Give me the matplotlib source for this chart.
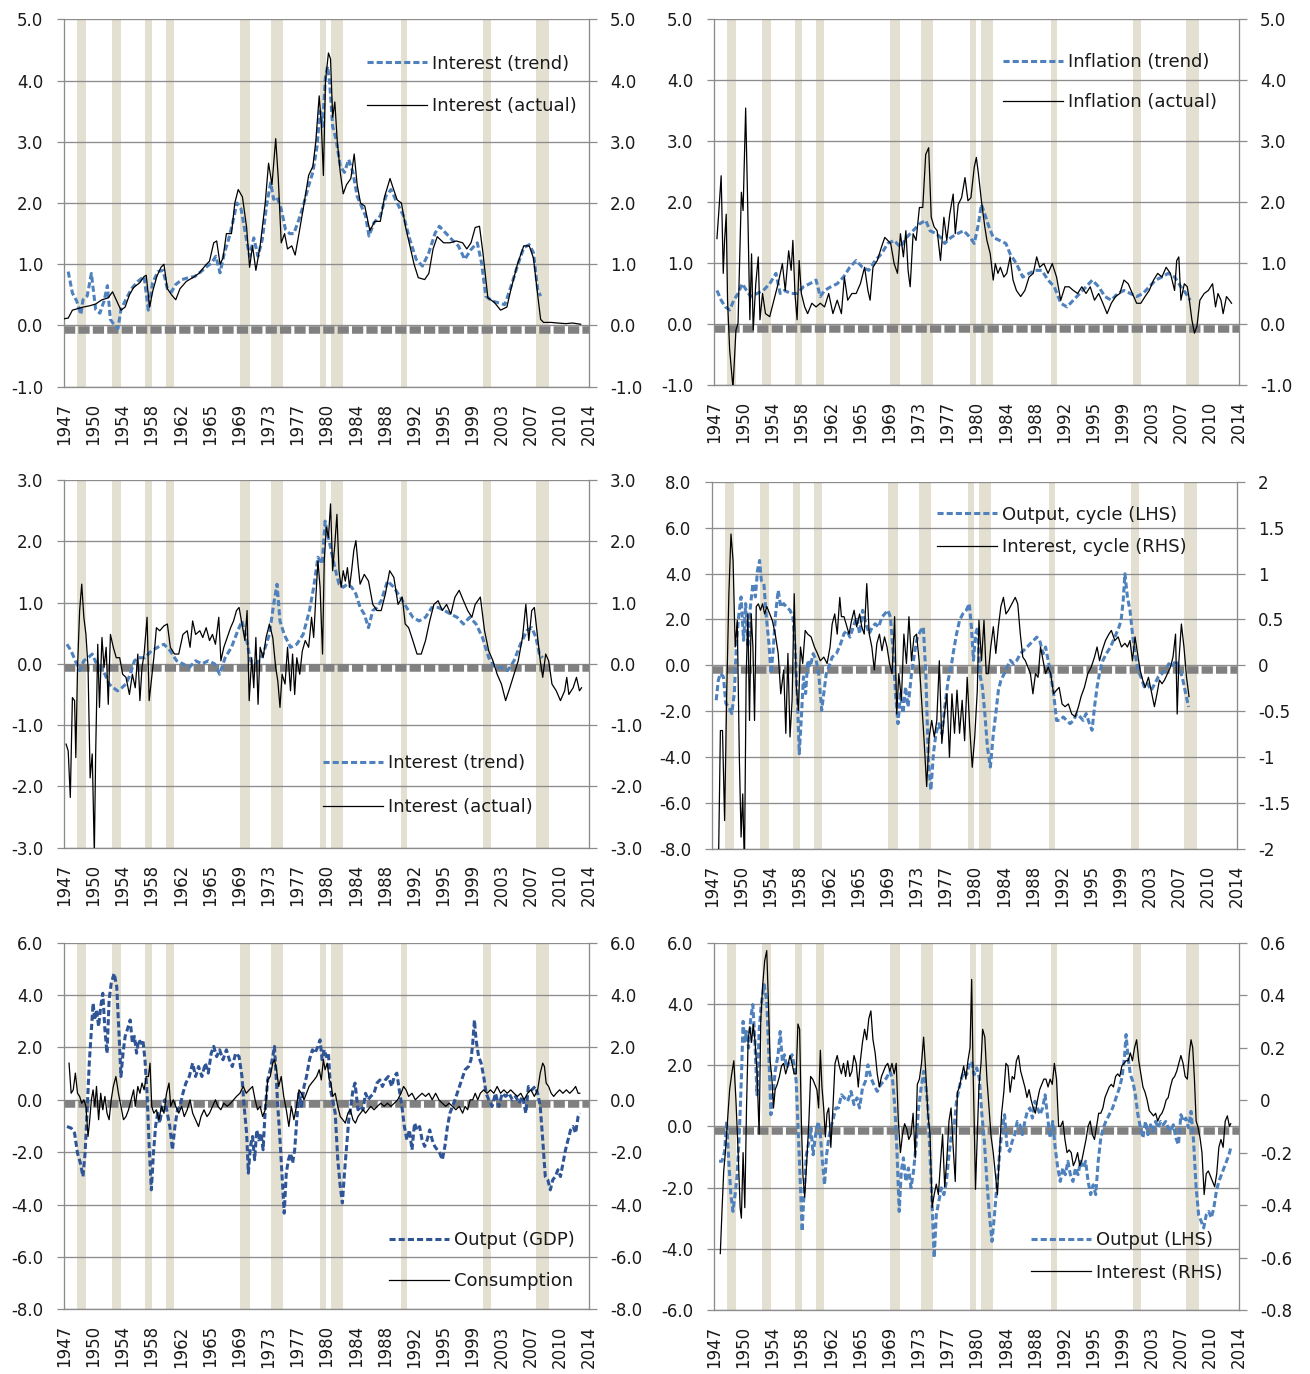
import numpy as np
import matplotlib
matplotlib.use('Agg')
import matplotlib.pyplot as plt
import matplotlib.transforms as mtransforms
from matplotlib.ticker import FuncFormatter

plt.rcParams['font.family'] = ['DejaVu Sans']
plt.rcParams['axes.unicode_minus'] = False

# ------------------------------------------------------------
# DATA  (time = years after 1947Q1, quarterly series)
# ------------------------------------------------------------
recessions = [('1948Q4', '1949Q4'), ('1953Q2', '1954Q2'), ('1957Q3', '1958Q2'),
              ('1960Q2', '1961Q1'), ('1969Q4', '1970Q4'), ('1973Q4', '1975Q1'),
              ('1980Q1', '1980Q3'), ('1981Q3', '1982Q4'), ('1990Q3', '1991Q1'),
              ('2001Q1', '2001Q4'), ('2007Q4', '2009Q2')]

# panel 1: interest rate, trend vs actual
p1_trend_t = [0.54, 1.08, 1.63, 2.17, 2.44, 2.98, 3.52, 4.07, 4.61, 5.15,
              5.58, 5.96, 6.51, 6.94, 7.32, 7.86, 8.68, 9.49, 10.30, 10.84,
              11.39, 12.09, 12.74, 13.29, 13.83, 14.37, 15.18, 16.00, 16.81, 17.62,
              18.44, 18.98, 19.52, 20.06, 20.61, 21.15, 21.69, 22.23, 22.77, 23.32,
              23.86, 24.40, 24.94, 25.49, 26.03, 26.57, 26.95, 27.38, 27.93, 28.47,
              29.01, 29.55, 30.20, 30.75, 31.45, 31.99, 32.54, 32.92, 33.24, 33.62,
              33.89, 34.16, 34.54, 34.98, 35.52, 36.06, 36.60, 37.15, 37.69, 38.23,
              38.77, 39.21, 39.86, 40.67, 41.38, 42.03, 42.84, 43.65, 44.47, 45.28,
              46.09, 46.91, 47.72, 48.26, 49.08, 49.89, 50.70, 51.52, 52.33, 53.14,
              53.69, 54.23, 55.04, 55.85, 56.67, 57.48, 58.29, 59.11, 59.81, 60.36,
              60.90, 61.28]
p1_trend_v = [0.88, 0.53, 0.40, 0.18, 0.42, 0.48, 0.85, 0.26, 0.20, 0.40,
              0.65, 0.10, 0.00, -0.05, 0.26, 0.40, 0.60, 0.72, 0.80, 0.25,
              0.70, 0.88, 0.90, 0.60, 0.55, 0.67, 0.75, 0.78, 0.80, 0.88,
              0.97, 1.02, 1.13, 0.86, 1.18, 1.40, 1.68, 2.00, 1.90, 1.50,
              1.13, 1.43, 1.13, 1.40, 1.95, 2.33, 2.06, 2.10, 1.90, 1.57,
              1.50, 1.50, 1.73, 1.95, 2.28, 2.50, 2.93, 3.50, 3.25, 4.07,
              4.23, 3.96, 3.25, 3.04, 2.60, 2.50, 2.71, 2.50, 2.11, 1.95,
              1.79, 1.46, 1.68, 1.79, 2.11, 2.22, 2.00, 1.79, 1.40, 1.08,
              0.97, 1.19, 1.51, 1.62, 1.51, 1.40, 1.30, 1.08, 1.24, 1.35,
              1.02, 0.48, 0.40, 0.37, 0.34, 0.64, 0.97, 1.27, 1.32, 1.19,
              0.59, 0.48]
p1_actual_t = [0.00, 0.54, 1.08, 1.90, 2.44, 3.25, 4.07, 4.88, 5.69, 6.24,
               6.78, 7.32, 7.86, 8.41, 8.95, 9.76, 10.30, 10.57, 11.01, 11.39,
               11.93, 12.47, 12.85, 13.29, 13.83, 14.37, 14.91, 15.73, 16.54, 17.35,
               18.17, 18.71, 19.25, 19.63, 20.07, 20.44, 20.88, 21.53, 21.96, 22.40,
               22.94, 23.48, 23.86, 24.24, 24.67, 25.22, 25.87, 26.30, 26.74, 27.22,
               27.55, 27.93, 28.36, 28.74, 29.28, 29.72, 30.21, 30.75, 31.45, 32.00,
               32.37, 32.81, 33.08, 33.35, 33.62, 34.00, 34.27, 34.54, 34.82, 35.14,
               35.52, 35.90, 36.33, 36.88, 37.31, 37.69, 38.12, 38.67, 39.32, 39.97,
               40.67, 41.21, 41.92, 42.30, 42.84, 43.38, 43.93, 44.47, 45.01, 45.55,
               46.37, 46.91, 47.45, 47.99, 48.81, 49.62, 50.43, 51.25, 51.79, 52.33,
               52.87, 53.42, 53.85, 54.50, 55.31, 56.13, 56.94, 57.48, 58.30, 59.11,
               59.82, 60.36, 60.90, 61.28, 61.66, 62.64, 63.45, 64.53, 65.35, 66.43]
p1_actual_v = [0.11, 0.12, 0.25, 0.28, 0.30, 0.32, 0.35, 0.42, 0.45, 0.55,
               0.40, 0.25, 0.30, 0.50, 0.62, 0.70, 0.80, 0.82, 0.30, 0.55,
               0.80, 0.95, 1.00, 0.60, 0.50, 0.42, 0.60, 0.72, 0.78, 0.85,
               0.98, 1.05, 1.35, 1.38, 1.00, 1.10, 1.50, 1.50, 2.00, 2.22,
               2.10, 1.60, 0.95, 1.30, 0.90, 1.30, 2.00, 2.65, 2.30, 3.05,
               2.40, 1.35, 1.50, 1.25, 1.30, 1.15, 1.50, 1.90, 2.45, 2.60,
               3.00, 3.75, 3.30, 2.45, 4.00, 4.45, 4.35, 3.40, 3.65, 3.00,
               2.50, 2.15, 2.30, 2.40, 2.80, 2.30, 2.00, 1.95, 1.55, 1.70,
               1.70, 2.10, 2.40, 2.25, 2.05, 2.00, 1.60, 1.30, 1.00, 0.78,
               0.75, 0.85, 1.25, 1.45, 1.35, 1.35, 1.38, 1.35, 1.25, 1.35,
               1.60, 1.62, 1.20, 0.45, 0.38, 0.25, 0.30, 0.60, 1.00, 1.30,
               1.30, 1.10, 0.50, 0.10, 0.05, 0.05, 0.04, 0.03, 0.04, 0.02]

# panel 2: inflation, trend vs actual
p2_trend_t = [0.38, 0.92, 1.46, 2.01, 2.55, 3.09, 3.63, 4.18, 4.72, 5.53,
              6.34, 7.16, 7.97, 8.51, 9.06, 9.87, 10.68, 11.50, 12.31, 13.12,
              13.67, 14.21, 15.02, 15.84, 16.65, 17.46, 18.28, 19.09, 19.90, 20.72,
              21.53, 22.34, 23.16, 23.97, 24.78, 25.60, 26.41, 27.22, 27.77, 28.58,
              29.12, 29.66, 30.48, 31.29, 32.10, 32.92, 33.46, 34.00, 34.38, 34.82,
              35.36, 35.90, 36.71, 37.53, 38.07, 38.88, 39.70, 40.51, 41.32, 42.14,
              42.95, 43.76, 44.58, 45.39, 46.20, 47.02, 47.83, 48.64, 49.46, 50.27,
              51.08, 51.90, 52.71, 53.53, 54.34, 55.15, 55.96, 56.78, 57.59, 58.40,
              59.22, 60.03, 60.68, 61.23]
p2_trend_v = [0.55, 0.39, 0.28, 0.23, 0.39, 0.50, 0.66, 0.55, 0.45, 0.50,
              0.55, 0.66, 0.83, 0.50, 0.55, 0.50, 0.50, 0.61, 0.66, 0.72,
              0.45, 0.55, 0.61, 0.66, 0.77, 0.93, 1.04, 0.93, 0.88, 1.04,
              1.15, 1.32, 1.37, 1.26, 1.42, 1.53, 1.64, 1.70, 1.53, 1.48,
              1.42, 1.32, 1.42, 1.48, 1.53, 1.42, 1.32, 1.64, 1.96, 1.80,
              1.59, 1.42, 1.37, 1.32, 1.15, 0.99, 0.77, 0.83, 0.88, 0.88,
              0.72, 0.61, 0.34, 0.28, 0.39, 0.50, 0.61, 0.72, 0.61, 0.45,
              0.39, 0.50, 0.55, 0.50, 0.45, 0.50, 0.61, 0.72, 0.77, 0.83,
              0.77, 0.61, 0.50, 0.39]
p2_actual_t = [0.38, 0.65, 0.92, 1.19, 1.36, 1.57, 1.74, 2.01, 2.44, 2.82,
               3.09, 3.52, 3.74, 4.07, 4.34, 4.61, 4.83, 5.04, 5.37, 5.69,
               5.91, 6.24, 6.62, 7.16, 7.70, 8.24, 8.79, 9.16, 9.60, 9.92,
               10.14, 10.41, 10.68, 10.95, 11.23, 11.66, 12.04, 12.58, 13.12, 13.67,
               14.21, 14.75, 15.29, 15.84, 16.38, 16.76, 17.19, 17.73, 18.28, 18.82,
               19.36, 19.79, 20.07, 20.44, 20.99, 21.53, 21.96, 22.34, 22.72, 23.16,
               23.59, 23.97, 24.35, 24.67, 24.95, 25.22, 25.60, 25.98, 26.41, 26.84,
               27.22, 27.60, 27.93, 28.31, 28.69, 29.12, 29.56, 29.93, 30.31, 30.75,
               31.02, 31.40, 31.83, 32.27, 32.65, 33.03, 33.46, 33.73, 34.00, 34.38,
               34.82, 35.09, 35.52, 35.90, 36.17, 36.50, 36.82, 37.26, 37.64, 38.07,
               38.45, 38.88, 39.43, 39.97, 40.51, 41.05, 41.49, 41.87, 42.41, 42.95,
               43.49, 44.04, 44.58, 45.12, 45.66, 46.20, 46.75, 47.29, 47.83, 48.37,
               48.92, 49.46, 50.00, 50.54, 51.08, 51.63, 52.17, 52.71, 53.25, 53.80,
               54.34, 54.88, 55.42, 55.96, 56.51, 57.05, 57.59, 58.13, 58.68, 59.22,
               59.49, 59.76, 60.03, 60.47, 60.85, 61.12, 61.44, 61.77, 62.09, 62.47,
               63.02, 63.56, 64.10, 64.48, 64.80, 65.18, 65.46, 65.89, 66.27, 66.54]
p2_actual_v = [1.40, 1.90, 2.43, 0.83, 1.37, 1.80, 0.39, -0.42, -1.05, -0.10,
               0.01, 2.16, 1.86, 3.54, 1.90, 0.07, 1.15, -0.10, 0.66, 1.10,
               0.07, 0.50, 0.17, 0.12, 0.39, 0.66, 0.99, 0.55, 1.20, 0.88,
               1.37, 0.50, 0.07, 1.04, 0.50, 0.28, 0.17, 0.34, 0.28, 0.34,
               0.28, 0.50, 0.17, 0.39, 0.17, 0.77, 0.39, 0.50, 0.50, 0.66,
               0.93, 0.55, 0.39, 0.93, 1.04, 1.26, 1.42, 1.37, 1.32, 0.99,
               0.83, 1.48, 1.10, 1.53, 0.88, 0.61, 1.48, 1.37, 1.91, 1.91,
               2.78, 2.89, 1.75, 1.59, 1.53, 1.04, 1.75, 1.37, 1.80, 2.13,
               1.48, 1.96, 2.07, 2.40, 2.02, 2.07, 2.57, 2.73, 2.46, 2.02,
               1.59, 1.37, 1.15, 0.72, 0.99, 0.83, 0.93, 0.77, 0.83, 1.10,
               0.72, 0.55, 0.45, 0.55, 0.77, 0.83, 1.10, 0.93, 0.99, 0.83,
               0.99, 0.77, 0.39, 0.61, 0.61, 0.55, 0.50, 0.61, 0.50, 0.61,
               0.39, 0.50, 0.34, 0.17, 0.34, 0.45, 0.50, 0.72, 0.66, 0.50,
               0.34, 0.34, 0.45, 0.55, 0.72, 0.83, 0.77, 0.93, 0.83, 0.55,
               1.04, 1.10, 0.39, 0.66, 0.61, 0.39, 0.07, -0.15, -0.04, 0.39,
               0.50, 0.55, 0.66, 0.28, 0.50, 0.39, 0.17, 0.45, 0.39, 0.34]

# panel 3: interest rate, trend vs actual (deviations)
p3_trend_t = [0.38, 0.92, 1.46, 2.01, 2.55, 3.09, 3.63, 4.18, 4.72, 5.26,
              5.80, 6.34, 6.89, 7.43, 7.97, 8.51, 9.06, 9.60, 10.41, 11.23,
              12.04, 12.85, 13.67, 14.48, 15.29, 16.11, 16.92, 17.73, 18.55, 19.36,
              20.01, 20.72, 21.53, 22.34, 22.88, 23.43, 23.97, 24.78, 25.60, 26.41,
              26.95, 27.39, 27.77, 28.31, 29.12, 29.93, 30.75, 31.56, 32.10, 32.65,
              33.19, 33.57, 33.89, 34.27, 34.82, 35.36, 35.90, 36.44, 36.98, 37.53,
              38.07, 38.61, 39.15, 39.70, 40.24, 40.78, 41.59, 42.41, 43.22, 44.04,
              44.85, 45.66, 46.48, 47.29, 48.10, 48.92, 49.73, 50.54, 51.36, 52.17,
              52.98, 53.80, 54.61, 55.42, 56.24, 57.05, 57.86, 58.68, 59.49, 60.14,
              60.68, 61.12, 61.55]
p3_trend_v = [0.32, 0.21, 0.05, -0.11, 0.05, 0.10, 0.16, 0.00, -0.06, -0.17,
              -0.33, -0.39, -0.44, -0.39, -0.33, -0.17, 0.05, 0.10, 0.10, 0.21,
              0.27, 0.32, 0.21, 0.05, 0.00, -0.06, 0.05, 0.00, 0.05, 0.00,
              -0.17, 0.10, 0.27, 0.54, 0.70, 0.43, 0.05, 0.00, 0.16, 0.48,
              0.97, 1.30, 0.70, 0.48, 0.27, 0.32, 0.48, 0.87, 1.25, 1.74,
              1.63, 2.33, 2.12, 1.90, 1.57, 1.30, 1.25, 1.30, 1.25, 1.14,
              0.92, 0.81, 0.59, 0.87, 0.92, 1.03, 1.35, 1.25, 1.09, 0.92,
              0.76, 0.70, 0.76, 0.92, 0.92, 0.87, 0.81, 0.76, 0.65, 0.76,
              0.65, 0.43, 0.10, -0.06, -0.06, -0.11, 0.05, 0.32, 0.54, 0.59,
              0.43, 0.16, 0.10]
p3_actual_t = [0.27, 0.54, 0.81, 1.08, 1.36, 1.52, 1.74, 2.01, 2.28, 2.55,
               2.82, 3.09, 3.36, 3.63, 3.90, 4.07, 4.34, 4.56, 4.88, 5.15,
               5.42, 5.69, 5.97, 6.34, 6.72, 7.16, 7.54, 7.97, 8.41, 8.79,
               9.16, 9.49, 9.76, 10.03, 10.30, 10.68, 10.95, 11.23, 11.55, 11.88,
               12.31, 12.85, 13.29, 13.67, 14.21, 14.75, 15.29, 15.84, 16.21, 16.54,
               16.92, 17.46, 17.84, 18.28, 18.71, 19.09, 19.47, 19.90, 20.17, 20.55,
               20.99, 21.42, 21.80, 22.18, 22.51, 22.88, 23.26, 23.54, 23.81, 24.13,
               24.40, 24.67, 24.95, 25.22, 25.60, 25.98, 26.41, 26.84, 27.22, 27.49,
               27.77, 28.04, 28.42, 28.74, 29.12, 29.39, 29.66, 29.93, 30.31, 30.64,
               31.02, 31.45, 31.83, 32.10, 32.38, 32.65, 32.92, 33.24, 33.46, 33.73,
               34.00, 34.27, 34.54, 34.82, 35.09, 35.36, 35.63, 35.90, 36.17, 36.44,
               36.71, 36.98, 37.26, 37.53, 37.80, 38.07, 38.61, 39.15, 39.70, 40.24,
               40.78, 41.32, 41.87, 42.41, 42.95, 43.49, 43.87, 44.31, 44.85, 45.39,
               45.93, 46.48, 47.02, 47.56, 48.10, 48.64, 49.19, 49.73, 50.27, 50.81,
               51.36, 51.90, 52.44, 52.87, 53.53, 54.07, 54.61, 55.15, 55.69, 56.24,
               56.78, 57.32, 57.86, 58.40, 58.95, 59.38, 59.76, 60.14, 60.47, 60.85,
               61.23, 61.55, 61.93, 62.31, 62.74, 63.29, 63.83, 64.37, 64.64, 64.91,
               65.46, 65.89, 66.27, 66.54]
p3_actual_v = [-1.31, -1.42, -2.18, -0.55, -0.60, -1.53, -0.06, 0.87, 1.30, 0.76,
               0.48, -0.06, -1.86, -1.47, -3.10, -1.47, 0.32, -0.71, 0.43, -0.06,
               0.27, -0.66, 0.48, 0.27, 0.10, 0.10, -0.17, -0.22, -0.50, -0.17,
               -0.39, 0.16, -0.60, -0.06, 0.16, 0.76, -0.60, -0.28, 0.10, 0.59,
               0.54, 0.62, 0.65, 0.27, 0.16, 0.16, 0.48, 0.54, 0.27, 0.70,
               0.48, 0.54, 0.43, 0.59, 0.38, 0.48, 0.32, 0.76, 0.05, 0.27,
               0.43, 0.59, 0.70, 0.87, 0.92, 0.65, 0.38, 0.87, -0.60, 0.10,
               -0.39, 0.43, -0.66, 0.27, 0.10, 0.43, 0.65, 0.43, -0.06, -0.28,
               -0.71, -0.17, -0.33, 0.27, -0.44, 0.16, -0.50, 0.10, -0.17, 0.21,
               0.38, 0.27, 0.76, 0.43, 1.09, 1.68, 1.25, 0.16, 1.68, 2.23,
               2.06, 2.61, 1.52, 1.95, 2.44, 1.52, 1.25, 1.52, 1.35, 1.57,
               1.25, 1.52, 1.85, 2.01, 1.63, 1.30, 1.46, 1.35, 0.97, 0.87,
               0.87, 1.14, 1.52, 1.41, 0.97, 1.09, 0.65, 0.59, 0.38, 0.16,
               0.16, 0.38, 0.70, 0.97, 1.03, 0.87, 0.97, 0.81, 1.09, 1.20,
               1.03, 0.87, 0.76, 0.97, 1.09, 0.54, 0.21, 0.05, -0.17, -0.33,
               -0.60, -0.39, -0.17, 0.05, 0.43, 0.97, 0.38, 0.87, 0.92, 0.48,
               0.05, -0.22, 0.16, 0.05, -0.33, -0.44, -0.60, -0.44, -0.22, -0.50,
               -0.39, -0.22, -0.44, -0.39]

# panel 4: output cycle (LHS) vs interest cycle (RHS)
p4_output_t = [0.54, 0.81, 1.08, 1.46, 1.79, 2.17, 2.54, 2.87, 3.14, 3.41,
               3.74, 4.06, 4.33, 4.61, 4.93, 5.26, 5.58, 5.85, 6.12, 6.34,
               6.67, 6.99, 7.32, 7.59, 7.86, 8.18, 8.51, 8.84, 9.22, 9.59,
               10.03, 10.41, 10.68, 10.95, 11.22, 11.49, 11.76, 12.04, 12.31, 12.63,
               13.01, 13.39, 13.72, 14.10, 14.37, 14.69, 15.02, 15.45, 16.00, 16.54,
               16.97, 17.35, 17.73, 18.16, 18.60, 18.98, 19.36, 19.79, 20.22, 20.60,
               20.98, 21.42, 21.85, 22.23, 22.61, 22.94, 23.31, 23.59, 23.91, 24.24,
               24.56, 24.89, 25.21, 25.65, 26.03, 26.41, 26.84, 27.17, 27.49, 27.82,
               28.14, 28.47, 28.79, 29.17, 29.55, 29.93, 30.36, 30.74, 31.07, 31.45,
               31.83, 32.26, 32.70, 33.08, 33.35, 33.62, 33.89, 34.16, 34.43, 34.76,
               35.08, 35.41, 35.79, 36.17, 36.49, 36.82, 37.14, 37.58, 37.96, 38.34,
               38.77, 39.20, 39.64, 40.07, 40.51, 40.94, 41.37, 41.75, 42.13, 42.57,
               42.89, 43.22, 43.54, 43.92, 44.30, 44.74, 45.17, 45.60, 46.04, 46.47,
               46.91, 47.34, 47.72, 48.10, 48.53, 48.86, 49.18, 49.51, 49.89, 50.27,
               50.70, 51.24, 51.79, 52.33, 52.60, 52.87, 53.09, 53.41, 53.74, 54.06,
               54.39, 54.77, 55.15, 55.58, 56.02, 56.45, 56.94, 57.37, 57.86, 58.29,
               58.73, 59.16, 59.65, 60.03, 60.46, 60.90, 61.28]
p4_output_v = [-1.52, -0.65, -0.36, -0.50, -1.67, -1.81, -2.10, -1.23, 0.94, 2.10,
               2.98, 1.09, 2.69, 0.80, 2.54, 3.56, 2.98, 4.14, 4.57, 3.70,
               3.56, 2.10, 0.94, -0.36, 0.65, 2.25, 3.27, 2.54, 2.69, 2.54,
               2.40, 2.10, 0.80, -1.23, -3.85, -2.25, -0.50, -1.23, 0.22, -0.07,
               0.51, 0.22, -0.36, -1.96, -1.23, -0.36, -0.07, 0.36, 0.51, 0.94,
               1.38, 1.52, 1.23, 1.67, 2.10, 1.38, 2.40, 1.81, 1.38, 1.67,
               1.81, 1.67, 2.10, 2.25, 2.40, 2.10, 0.51, -1.23, -2.54, -1.23,
               -2.10, -0.94, -1.81, -0.36, 0.51, 1.23, 1.52, 1.67, -0.36, -4.14,
               -5.44, -3.85, -2.98, -2.54, -2.98, -1.81, -0.65, -0.07, 0.65, 1.38,
               1.96, 2.25, 2.40, 2.69, 1.67, 0.22, 1.38, 1.67, -0.36, -0.94,
               -2.10, -3.56, -4.43, -2.98, -2.10, -1.09, -0.65, -0.36, -0.07, 0.22,
               0.07, 0.22, 0.51, 0.65, 0.80, 0.94, 1.09, 1.23, 1.09, 0.51,
               0.80, 0.22, -0.36, -1.23, -2.40, -2.40, -2.25, -2.40, -2.54, -2.40,
               -2.10, -2.25, -2.40, -2.10, -2.54, -2.83, -1.81, -0.94, -0.22, 0.22,
               0.51, 0.80, 1.23, 1.67, 1.96, 2.83, 3.99, 2.98, 2.40, 1.38,
               0.51, -0.22, -0.51, -0.94, -0.80, -1.09, -0.80, -0.51, -0.36, -0.22,
               0.07, -0.07, 0.22, -0.07, -0.51, -1.23, -1.81]
p4_interest_t = [0.81, 1.08, 1.35, 1.62, 1.89, 2.17, 2.44, 2.71, 2.98, 3.25,
                 3.52, 3.74, 3.95, 4.17, 4.39, 4.61, 4.82, 5.04, 5.26, 5.47,
                 5.69, 5.96, 6.23, 6.50, 6.77, 7.05, 7.43, 7.75, 8.13, 8.51,
                 8.84, 9.22, 9.49, 9.76, 10.03, 10.30, 10.57, 10.84, 11.11, 11.38,
                 11.66, 11.98, 12.31, 12.74, 13.17, 13.55, 13.93, 14.37, 14.80, 15.18,
                 15.45, 15.78, 16.10, 16.43, 16.64, 16.97, 17.35, 17.62, 17.95, 18.27,
                 18.60, 18.98, 19.25, 19.57, 19.90, 20.22, 20.55, 20.87, 21.20, 21.53,
                 21.85, 22.18, 22.50, 22.83, 23.15, 23.48, 23.75, 24.02, 24.35, 24.67,
                 25.00, 25.32, 25.65, 25.97, 26.30, 26.63, 26.95, 27.27, 27.60, 27.92,
                 28.25, 28.58, 28.90, 29.23, 29.55, 29.88, 30.20, 30.53, 30.85, 31.18,
                 31.50, 31.83, 32.16, 32.48, 32.81, 33.13, 33.46, 33.78, 34.11, 34.32,
                 34.65, 34.97, 35.25, 35.52, 35.84, 36.17, 36.49, 36.82, 37.14, 37.47,
                 37.79, 38.12, 38.55, 38.99, 39.31, 39.64, 39.96, 40.29, 40.61, 40.94,
                 41.26, 41.59, 41.92, 42.24, 42.57, 42.89, 43.22, 43.54, 43.92, 44.30,
                 44.63, 45.01, 45.39, 45.82, 46.25, 46.69, 47.12, 47.45, 47.88, 48.32,
                 48.75, 49.18, 49.51, 49.83, 50.16, 50.59, 51.03, 51.35, 51.79, 52.22,
                 52.65, 53.09, 53.41, 53.74, 54.06, 54.39, 54.71, 55.04, 55.37, 55.69,
                 56.12, 56.45, 56.88, 57.21, 57.53, 57.86, 58.18, 58.56, 58.94, 59.27,
                 59.60, 59.81, 60.03, 60.35, 60.68, 61.01, 61.33]
p4_interest_v = [-2.30, -0.71, -0.71, -1.69, -0.31, 0.78, 1.43, 1.14, 0.20, 0.49,
                 -1.03, -1.87, -1.40, -2.20, -0.13, 0.56, -0.60, 0.56, 0.20, -0.60,
                 0.64, 0.67, 0.60, 0.67, 0.56, 0.64, 0.56, 0.49, 0.34, 0.13,
                 -0.31, -0.05, -0.74, 0.13, -0.78, -0.38, 0.78, -0.24, -0.49, 0.20,
                 0.02, 0.38, 0.34, 0.31, 0.20, 0.13, 0.05, 0.09, 0.02, 0.20,
                 0.45, 0.56, 0.34, 0.74, 0.53, 0.53, 0.42, 0.34, 0.49, 0.60,
                 0.42, 0.56, 0.42, 0.34, 0.89, 0.34, 0.20, -0.05, 0.24, 0.34,
                 0.16, 0.31, 0.20, 0.02, -0.09, 0.53, -0.53, -0.09, -0.38, 0.34,
                 0.02, 0.53, 0.05, 0.31, 0.34, 0.05, -0.38, -0.82, -1.32, -0.78,
                 -0.60, -0.78, -0.60, 0.05, -0.85, -0.53, -0.31, -1.00, -0.31, -0.74,
                 -0.27, -0.74, -0.38, -0.82, -0.13, -0.67, -1.11, -0.78, -0.27, 0.49,
                 0.05, 0.49, -0.09, -0.09, 0.20, 0.42, 0.13, 0.42, 0.64, 0.74,
                 0.56, 0.60, 0.67, 0.74, 0.67, 0.34, 0.09, 0.05, -0.02, -0.09,
                 -0.31, -0.09, -0.13, 0.20, 0.05, -0.09, -0.02, -0.09, -0.31, -0.27,
                 -0.24, -0.42, -0.45, -0.42, -0.53, -0.56, -0.45, -0.34, -0.24, -0.09,
                 -0.02, 0.09, 0.20, 0.05, 0.16, 0.27, 0.34, 0.38, 0.27, 0.31,
                 0.20, 0.24, 0.20, 0.27, 0.05, 0.31, 0.13, -0.05, -0.16, -0.24,
                 -0.13, -0.27, -0.45, -0.31, -0.16, -0.20, -0.16, -0.09, -0.02, 0.09,
                 0.34, -0.53, 0.05, 0.45, 0.20, -0.13, -0.34]

# panel 5: output (GDP) vs consumption cycles
p5_gdp_t = [0.38, 0.92, 1.36, 1.74, 2.11, 2.44, 2.71, 2.98, 3.25, 3.52,
            3.74, 3.96, 4.18, 4.45, 4.72, 4.99, 5.26, 5.53, 5.80, 6.07,
            6.45, 6.78, 7.05, 7.32, 7.59, 7.86, 8.13, 8.51, 8.79, 9.06,
            9.33, 9.60, 9.87, 10.14, 10.41, 10.68, 10.95, 11.23, 11.50, 11.77,
            12.04, 12.31, 12.64, 12.96, 13.29, 13.61, 13.94, 14.26, 14.59, 14.91,
            15.29, 15.67, 16.11, 16.54, 16.92, 17.30, 17.73, 18.17, 18.55, 18.93,
            19.25, 19.63, 20.01, 20.44, 20.88, 21.26, 21.64, 22.07, 22.51, 22.88,
            23.16, 23.48, 23.70, 23.97, 24.24, 24.51, 24.78, 25.05, 25.33, 25.60,
            25.87, 26.19, 26.52, 26.84, 27.06, 27.28, 27.49, 27.77, 28.04, 28.31,
            28.58, 28.85, 29.12, 29.39, 29.66, 29.93, 30.21, 30.53, 30.86, 31.18,
            31.56, 31.94, 32.27, 32.65, 32.92, 33.19, 33.46, 33.73, 34.00, 34.27,
            34.54, 34.87, 35.20, 35.52, 35.79, 36.06, 36.33, 36.61, 36.88, 37.15,
            37.42, 37.80, 38.12, 38.45, 38.77, 39.10, 39.43, 39.86, 40.24, 40.62,
            40.94, 41.32, 41.70, 42.14, 42.46, 42.79, 43.11, 43.44, 43.76, 44.09,
            44.41, 44.74, 45.07, 45.39, 45.72, 46.04, 46.37, 46.69, 47.02, 47.34,
            47.67, 47.99, 48.32, 48.64, 48.97, 49.30, 49.62, 49.95, 50.27, 50.70,
            51.14, 51.57, 52.01, 52.33, 52.55, 52.77, 52.98, 53.31, 53.63, 53.96,
            54.28, 54.61, 55.04, 55.48, 55.91, 56.34, 56.78, 57.21, 57.65, 58.08,
            58.51, 58.95, 59.38, 59.71, 60.14, 60.58, 60.90, 61.23, 61.55, 61.88,
            62.20, 62.53, 62.85, 63.18, 63.50, 63.83, 64.15, 64.48, 64.80, 65.13,
            65.46, 65.78, 66.10, 66.32]
p5_gdp_v = [-1.02, -1.08, -1.27, -2.04, -2.42, -2.93, -2.04, -0.38, 1.40, 2.67,
            3.69, 3.05, 3.44, 2.80, 3.56, 4.07, 2.67, 1.78, 3.82, 4.45,
            4.83, 4.33, 2.67, 0.89, 1.78, 2.42, 2.67, 3.05, 2.16, 2.42,
            1.78, 2.29, 2.16, 2.29, 1.53, 0.25, -1.78, -3.44, -2.04, -1.02,
            -0.51, -0.89, -0.25, 0.00, -0.51, -1.02, -1.91, -1.02, -0.38, -0.25,
            0.25, 0.64, 0.89, 1.40, 0.89, 1.27, 0.89, 1.40, 1.02, 1.78,
            2.04, 1.65, 1.91, 1.53, 1.91, 1.53, 1.27, 1.78, 1.65, 0.89,
            -0.25, -1.27, -2.80, -1.78, -1.40, -2.29, -1.15, -1.53, -1.27, -1.91,
            -0.38, 0.76, 1.15, 1.65, 2.04, 0.89, -0.25, -1.53, -2.93, -4.33,
            -2.80, -2.29, -2.04, -2.42, -1.91, -0.76, 0.25, -0.25, 0.51, 0.89,
            1.53, 1.91, 1.78, 2.04, 2.29, 1.53, 1.91, 1.65, 1.78, 0.38,
            0.00, -0.51, -2.29, -3.31, -3.94, -2.80, -1.78, -0.76, -0.25, 0.38,
            0.64, -0.38, -0.25, -0.38, 0.25, 0.00, 0.13, 0.25, 0.64, 0.76,
            0.51, 0.76, 0.89, 0.51, 0.89, 1.02, 0.38, -0.25, -1.02, -1.53,
            -1.15, -1.91, -0.89, -1.15, -1.02, -1.53, -1.78, -1.53, -1.15, -1.53,
            -1.78, -1.91, -2.04, -2.29, -1.78, -1.02, -0.51, -0.25, 0.00, 0.38,
            0.76, 1.15, 1.27, 1.53, 2.16, 3.05, 2.29, 1.65, 1.40, 0.89,
            0.25, 0.00, -0.25, 0.25, -0.25, 0.25, 0.13, 0.25, 0.00, 0.13,
            -0.13, 0.13, -0.51, 0.51, 0.38, 0.51, 0.25, -0.25, -1.53, -2.93,
            -3.05, -3.44, -3.05, -2.93, -2.67, -2.93, -2.42, -1.91, -1.53, -1.15,
            -1.02, -1.27, -0.64, -0.51]
p5_cons_t = [0.65, 0.92, 1.19, 1.46, 1.74, 2.01, 2.28, 2.55, 2.82, 3.09,
             3.31, 3.52, 3.74, 3.96, 4.18, 4.45, 4.72, 4.99, 5.26, 5.53,
             5.80, 6.07, 6.34, 6.67, 7.00, 7.32, 7.65, 7.97, 8.30, 8.62,
             8.95, 9.16, 9.49, 9.76, 10.03, 10.30, 10.57, 10.85, 11.06, 11.28,
             11.55, 11.88, 12.20, 12.53, 12.85, 13.18, 13.50, 13.72, 14.05, 14.37,
             14.75, 15.13, 15.46, 15.84, 16.21, 16.54, 16.92, 17.30, 17.62, 18.00,
             18.38, 18.71, 19.09, 19.47, 19.79, 20.17, 20.55, 20.99, 21.42, 21.80,
             22.18, 22.61, 23.05, 23.43, 23.81, 24.24, 24.57, 24.89, 25.22, 25.54,
             25.87, 26.19, 26.52, 26.84, 27.06, 27.33, 27.60, 27.93, 28.25, 28.58,
             28.91, 29.23, 29.56, 29.88, 30.21, 30.53, 30.86, 31.18, 31.51, 31.83,
             32.16, 32.48, 32.81, 33.08, 33.35, 33.57, 33.84, 34.11, 34.33, 34.54,
             34.87, 35.20, 35.52, 35.85, 36.17, 36.50, 36.82, 37.15, 37.47, 37.80,
             38.12, 38.45, 38.77, 39.10, 39.43, 39.86, 40.29, 40.73, 41.16, 41.59,
             42.03, 42.46, 42.90, 43.33, 43.66, 43.98, 44.31, 44.74, 45.17, 45.61,
             46.04, 46.48, 46.91, 47.34, 47.78, 48.21, 48.64, 49.08, 49.51, 49.95,
             50.38, 50.81, 51.25, 51.57, 51.90, 52.22, 52.55, 52.87, 53.20, 53.53,
             53.96, 54.39, 54.83, 55.26, 55.69, 56.13, 56.56, 56.99, 57.43, 57.86,
             58.30, 58.73, 59.17, 59.60, 60.03, 60.47, 60.90, 61.23, 61.55, 61.77,
             61.99, 62.31, 62.64, 62.96, 63.29, 63.72, 64.15, 64.59, 65.02, 65.46,
             65.78, 66.10, 66.32]
p5_cons_v = [1.40, 0.25, 0.38, 1.02, 0.25, 0.13, -0.13, 0.00, -0.25, -1.40,
             -0.76, 0.00, 0.38, -0.25, 0.51, -0.76, 0.25, -0.38, 0.13, -0.51,
             -0.76, 0.00, 0.51, 0.89, 0.25, -0.25, -0.76, -0.64, -0.38, 0.00,
             0.38, -0.25, 0.51, 0.25, 0.64, 0.38, 0.89, 0.89, 1.40, -0.25,
             -0.51, -0.38, -0.76, -0.25, -0.51, 0.25, 0.64, -0.25, 0.00, -0.25,
             -0.51, -0.25, -0.64, -0.38, 0.00, -0.51, -0.76, -1.02, -0.64, -0.38,
             -0.64, -0.51, -0.25, 0.00, -0.25, -0.38, -0.13, -0.25, -0.13, 0.00,
             0.13, 0.25, 0.51, 0.25, 0.38, 0.51, 0.00, -0.38, -0.25, -0.64,
             -0.38, 0.76, 0.89, 1.40, 1.53, 1.15, 0.51, 0.89, 0.13, -0.38,
             -1.02, -0.25, -0.76, -0.25, 0.38, 0.25, 0.00, 0.25, 0.51, 0.64,
             0.76, 0.89, 1.15, 0.76, 1.53, 1.15, 1.40, 0.76, 0.64, 0.13,
             0.25, -0.25, -0.64, -0.76, -0.89, -0.51, -0.38, -0.76, -0.89, -0.64,
             -0.51, -0.38, -0.51, -0.38, -0.25, -0.38, -0.25, -0.13, -0.25, -0.13,
             -0.25, -0.13, 0.00, 0.25, 0.51, 0.38, 0.13, 0.25, 0.00, 0.13,
             0.25, 0.13, 0.25, 0.00, 0.25, 0.00, -0.13, -0.25, -0.13, -0.25,
             -0.38, -0.25, -0.51, -0.25, -0.38, 0.00, 0.00, 0.25, 0.00, 0.25,
             0.38, 0.25, 0.38, 0.25, 0.51, 0.25, 0.38, 0.25, 0.38, 0.25,
             0.13, 0.25, 0.00, 0.25, 0.38, 0.13, 0.38, 1.02, 1.40, 1.27,
             0.64, 0.51, 0.25, 0.13, 0.25, 0.38, 0.25, 0.38, 0.25, 0.38,
             0.51, 0.25, 0.25]

# panel 6: output (LHS) vs interest (RHS)
p6_output_t = [0.65, 1.03, 1.36, 1.63, 1.90, 2.17, 2.44, 2.71, 2.98, 3.25,
               3.52, 3.74, 3.96, 4.18, 4.45, 4.72, 4.99, 5.26, 5.53, 5.80,
               6.07, 6.45, 6.78, 7.05, 7.32, 7.59, 7.86, 8.24, 8.51, 8.79,
               9.06, 9.33, 9.71, 10.03, 10.30, 10.57, 10.85, 11.12, 11.33, 11.61,
               11.88, 12.20, 12.47, 12.74, 13.07, 13.40, 13.67, 13.94, 14.21, 14.48,
               14.75, 15.02, 15.35, 15.67, 16.00, 16.38, 16.76, 17.19, 17.62, 18.00,
               18.38, 18.71, 19.09, 19.47, 19.79, 20.17, 20.55, 20.99, 21.42, 21.80,
               22.18, 22.61, 22.94, 23.26, 23.54, 23.81, 24.08, 24.35, 24.67, 25.00,
               25.33, 25.65, 25.98, 26.30, 26.63, 26.95, 27.22, 27.49, 27.77, 28.04,
               28.31, 28.58, 28.91, 29.23, 29.56, 29.88, 30.21, 30.53, 30.86, 31.18,
               31.51, 31.83, 32.16, 32.48, 32.81, 33.13, 33.46, 33.78, 34.11, 34.44,
               34.76, 35.09, 35.41, 35.74, 36.06, 36.39, 36.71, 37.04, 37.36, 37.69,
               38.01, 38.34, 38.67, 38.99, 39.32, 39.64, 39.97, 40.29, 40.62, 40.94,
               41.27, 41.59, 41.92, 42.24, 42.57, 42.90, 43.22, 43.55, 43.87, 44.20,
               44.52, 44.85, 45.17, 45.50, 45.82, 46.15, 46.48, 46.80, 47.13, 47.45,
               47.78, 48.10, 48.43, 48.75, 49.08, 49.40, 49.73, 50.05, 50.38, 50.81,
               51.25, 51.68, 52.11, 52.44, 52.77, 52.98, 53.20, 53.53, 53.85, 54.18,
               54.50, 54.83, 55.15, 55.48, 55.80, 56.13, 56.45, 56.78, 57.10, 57.43,
               57.75, 58.08, 58.40, 58.73, 59.06, 59.38, 59.71, 60.03, 60.36, 60.68,
               61.01, 61.33, 61.66, 61.99, 62.31, 62.64, 62.96, 63.29, 63.61, 63.94,
               64.26, 64.59, 64.91, 65.24, 65.56, 65.89, 66.21, 66.43]
p6_output_v = [-1.14, -1.14, -0.82, 0.16, -1.14, -2.23, -2.78, -2.23, -1.58, -0.27,
               1.58, 3.43, 2.78, 3.10, 2.56, 3.54, 3.98, 2.78, 1.03, 3.10,
               3.98, 4.63, 4.08, 2.34, 0.38, 1.03, 1.80, 2.34, 3.10, 2.12,
               2.34, 1.91, 2.12, 2.34, 2.01, 1.47, -0.27, -2.01, -3.43, -2.01,
               -0.93, -0.49, -0.05, -0.93, -0.27, 0.16, -0.27, -1.14, -1.91, -0.93,
               -0.38, -0.05, 0.27, 0.60, 0.60, 1.03, 0.93, 0.82, 1.14, 0.71,
               0.93, 0.60, 1.25, 1.47, 2.01, 1.58, 1.36, 1.14, 1.36, 1.47,
               1.58, 1.80, 1.58, 0.60, -0.93, -2.78, -1.47, -1.03, -1.80, -1.36,
               -2.01, -1.47, -0.60, 0.60, 1.25, 1.80, 1.36, 0.60, -0.93, -2.56,
               -4.30, -2.89, -2.45, -2.01, -2.23, -1.80, -0.93, -0.27, -0.05, 0.82,
               1.25, 1.58, 1.80, 1.69, 2.01, 2.12, 1.69, 1.91, 1.58, 0.38,
               -0.49, -1.80, -2.89, -3.76, -2.89, -1.91, -0.93, -0.05, 0.38, -0.71,
               -0.82, -0.49, -0.27, 0.16, 0.05, -0.27, 0.16, 0.49, 0.60, 0.27,
               0.82, 0.60, 0.38, 0.60, 1.03, 0.27, -0.38, 0.16, -0.71, -1.36,
               -1.80, -1.36, -1.58, -1.14, -1.58, -1.80, -1.36, -1.58, -1.14, -1.36,
               -1.14, -1.80, -2.23, -1.91, -2.23, -1.14, -0.38, -0.05, 0.16, 0.38,
               0.60, 0.93, 1.25, 1.58, 2.23, 3.00, 2.34, 1.69, 1.47, 1.03,
               0.38, -0.05, -0.38, 0.16, -0.27, 0.05, -0.16, 0.16, -0.05, 0.16,
               0.05, 0.16, -0.05, -0.16, 0.05, -0.38, -0.60, 0.38, 0.16, 0.27,
               -0.05, 0.49, -0.49, -2.01, -2.89, -3.10, -3.32, -2.89, -2.78, -2.99,
               -2.67, -2.12, -1.80, -1.58, -1.36, -1.14, -0.93, -0.71]
p6_interest_t = [0.81, 1.03, 1.25, 1.46, 1.74, 2.01, 2.28, 2.55, 2.82, 3.09,
                 3.36, 3.52, 3.74, 3.96, 4.18, 4.39, 4.61, 4.83, 5.04, 5.26,
                 5.53, 5.80, 6.02, 6.24, 6.51, 6.78, 7.00, 7.21, 7.43, 7.65,
                 7.86, 8.13, 8.41, 8.68, 8.95, 9.22, 9.49, 9.76, 10.03, 10.30,
                 10.57, 10.79, 11.01, 11.23, 11.44, 11.66, 11.93, 12.20, 12.42, 12.69,
                 12.96, 13.23, 13.45, 13.67, 13.88, 14.10, 14.32, 14.53, 14.75, 15.02,
                 15.29, 15.56, 15.84, 16.11, 16.38, 16.65, 16.92, 17.19, 17.46, 17.73,
                 18.00, 18.28, 18.55, 18.82, 19.09, 19.36, 19.63, 19.90, 20.17, 20.44,
                 20.72, 20.99, 21.26, 21.53, 21.80, 22.07, 22.34, 22.61, 22.88, 23.16,
                 23.43, 23.70, 23.97, 24.24, 24.51, 24.78, 25.05, 25.33, 25.60, 25.87,
                 26.14, 26.41, 26.68, 26.95, 27.22, 27.49, 27.77, 28.04, 28.31, 28.58,
                 28.85, 29.12, 29.39, 29.66, 29.93, 30.21, 30.48, 30.75, 31.02, 31.29,
                 31.56, 31.83, 32.10, 32.38, 32.65, 32.92, 33.13, 33.30, 33.46, 33.62,
                 33.84, 34.06, 34.33, 34.54, 34.82, 35.09, 35.36, 35.63, 35.90, 36.17,
                 36.44, 36.71, 36.98, 37.26, 37.53, 37.80, 38.07, 38.34, 38.61, 38.88,
                 39.15, 39.43, 39.70, 39.97, 40.24, 40.51, 40.78, 41.05, 41.32, 41.59,
                 41.87, 42.14, 42.41, 42.68, 42.95, 43.22, 43.49, 43.76, 44.04, 44.31,
                 44.58, 44.85, 45.12, 45.39, 45.66, 45.93, 46.20, 46.48, 46.75, 47.02,
                 47.29, 47.56, 47.83, 48.10, 48.37, 48.64, 48.92, 49.19, 49.46, 49.73,
                 50.00, 50.27, 50.54, 50.81, 51.08, 51.36, 51.63, 51.90, 52.17, 52.44,
                 52.71, 52.98, 53.25, 53.53, 53.80, 54.07, 54.34, 54.61, 54.88, 55.15,
                 55.42, 55.69, 55.96, 56.24, 56.51, 56.78, 57.05, 57.32, 57.59, 57.86,
                 58.13, 58.40, 58.68, 58.95, 59.22, 59.49, 59.76, 60.03, 60.31, 60.58,
                 60.85, 61.12, 61.33, 61.55, 61.77, 61.99, 62.20, 62.47, 62.74, 63.02,
                 63.29, 63.56, 63.83, 64.10, 64.37, 64.64, 64.91, 65.18, 65.46, 65.73,
                 66.00, 66.27, 66.43]
p6_interest_v = [-0.585, -0.42, -0.27, -0.20, -0.08, 0.04, 0.10, 0.15, 0.00, -0.19,
                 -0.41, -0.45, -0.20, -0.41, -0.03, 0.23, 0.28, 0.22, 0.29, 0.23,
                 0.11, -0.13, 0.31, 0.43, 0.53, 0.57, 0.37, 0.15, 0.09, -0.03,
                 0.04, 0.06, 0.09, 0.13, 0.14, 0.10, 0.13, 0.17, 0.14, 0.10,
                 0.10, 0.29, 0.27, -0.08, -0.29, -0.37, -0.23, -0.08, 0.09, 0.08,
                 0.06, 0.04, -0.03, 0.19, 0.05, -0.03, -0.14, -0.05, -0.03, -0.18,
                 -0.03, 0.14, 0.17, 0.13, 0.10, 0.14, 0.09, 0.15, 0.09, 0.11,
                 0.17, 0.14, 0.05, 0.15, 0.22, 0.27, 0.23, 0.31, 0.34, 0.23,
                 0.18, 0.10, 0.05, 0.09, 0.11, 0.13, 0.14, 0.11, 0.14, 0.10,
                 0.14, -0.08, -0.20, -0.13, -0.09, -0.11, -0.15, -0.13, -0.05, -0.22,
                 0.06, 0.08, 0.14, 0.24, 0.11, -0.05, -0.13, -0.41, -0.36, -0.32,
                 -0.36, -0.24, -0.13, -0.33, -0.23, -0.08, -0.03, -0.18, -0.31, 0.03,
                 0.05, 0.09, 0.13, 0.08, 0.15, 0.20, 0.46, 0.13, -0.09, -0.34,
                 -0.14, 0.05, 0.14, 0.27, 0.24, 0.08, -0.03, -0.14, -0.20, -0.28,
                 -0.36, -0.20, -0.05, 0.03, 0.14, 0.13, 0.03, 0.09, 0.08, 0.15,
                 0.17, 0.11, 0.08, 0.05, 0.01, 0.04, 0.00, -0.03, -0.05, 0.00,
                 0.04, 0.06, 0.08, 0.08, 0.05, 0.08, 0.06, 0.14, 0.08, -0.10,
                 -0.10, -0.08, -0.15, -0.20, -0.19, -0.20, -0.25, -0.23, -0.20, -0.25,
                 -0.23, -0.19, -0.15, -0.10, -0.08, -0.13, -0.15, -0.10, -0.05, -0.05,
                 -0.03, 0.01, 0.03, 0.05, 0.06, 0.05, 0.09, 0.10, 0.09, 0.13,
                 0.14, 0.15, 0.15, 0.18, 0.15, 0.20, 0.23, 0.15, 0.10, 0.05,
                 0.03, 0.00, -0.04, -0.05, -0.06, -0.05, -0.08, -0.06, -0.05, -0.03,
                 0.00, 0.01, 0.05, 0.08, 0.09, 0.11, 0.14, 0.17, 0.14, 0.09,
                 0.08, 0.18, 0.23, 0.20, 0.08, -0.08, -0.10, -0.14, -0.20, -0.36,
                 -0.28, -0.27, -0.29, -0.31, -0.33, -0.28, -0.18, -0.15, -0.18, -0.08,
                 -0.06, -0.10, -0.09]

# ------------------------------------------------------------
# STYLE
# ------------------------------------------------------------
FIG_W, FIG_H = 1310, 1374
GRID = '#8c8c8c'
BAND = '#e3e0d1'
BLUE = '#4f81bd'
NAVY = '#2f5597'
TXT = '#1a1a1a'
FS = 12
LEG_FS = 13

fig = plt.figure(figsize=(FIG_W / 100, FIG_H / 100), dpi=100)
fig.patch.set_facecolor('white')


def q_index(label):
    year, q = label.split('Q')
    return (int(year) - 1947) * 4 + int(q) - 1


def qpos(t):
    # years after 1947Q1 -> quarter position on the category axis
    return 4 * np.asarray(t)


def rect(x0, x1, y0, y1):
    return [x0 / FIG_W, 1 - y1 / FIG_H, (x1 - x0) / FIG_W, (y1 - y0) / FIG_H]


def tick_fmt(fmt):
    # round away float noise so 0 prints as 0, not -2.2e-16
    return FuncFormatter(lambda v, p: fmt.format(round(v, 6) + 0.0))


def make_panel(box, ylim, ystep, rlim=None, rstep=None, rfmt='{:.1f}'):
    ax = fig.add_axes(rect(*box))
    ax.set_xlim(0, 270)
    xt = np.arange(0, 271, 15)
    ax.set_xticks(xt)
    ax.set_xticklabels([str(int(1947 + k / 4)) for k in xt], rotation=90)
    ax.tick_params(axis='x', length=0, pad=11.5, labelsize=FS, labelcolor=TXT)
    ax.tick_params(axis='y', direction='out', length=5, width=0.9, color=GRID,
                   pad=10, labelsize=FS, labelcolor=TXT)
    ax.set_yticks(np.arange(ylim[0], ylim[1] + ystep / 2, ystep))
    ax.yaxis.set_major_formatter(tick_fmt('{:.1f}'))
    ax.set_ylim(*ylim)
    ax.grid(axis='y', color=GRID, lw=0.95)
    ax.set_axisbelow(True)
    for s in ('top', 'right'):
        ax.spines[s].set_visible(False)
    for s in ('left', 'bottom'):
        ax.spines[s].set_color(GRID)
        ax.spines[s].set_linewidth(0.95)

    for a, b in recessions:
        ax.axvspan(q_index(a) - 0.5, q_index(b) + 0.5, color=BAND, lw=0, zorder=0.1)

    # thick dashed zero line, sitting just under the zero gridline
    tr = (mtransforms.blended_transform_factory(ax.transAxes, ax.transData)
          + mtransforms.ScaledTranslation(0, -0.045, fig.dpi_scale_trans))
    ax.plot([0, 1], [0, 0], transform=tr, color='#808080', lw=5.4,
            dashes=(1.5, 0.42), zorder=1.5)
    ax.set_ylim(*ylim)

    ax2 = ax.twinx()
    if rlim is None:
        rlim, rstep = ylim, ystep
    ax2.set_yticks(np.arange(rlim[0], rlim[1] + rstep / 2, rstep))
    ax2.yaxis.set_major_formatter(tick_fmt(rfmt))
    ax2.set_ylim(*rlim)
    ax2.tick_params(axis='y', direction='out', length=5.8, width=0.9, color=GRID,
                    pad=9.4, labelsize=FS, labelcolor=TXT)
    for s in ('top', 'left', 'bottom'):
        ax2.spines[s].set_visible(False)
    ax2.spines['right'].set_color(GRID)
    ax2.spines['right'].set_linewidth(0.95)
    return ax, ax2


def dashed(ax, t, v, label, color=BLUE):
    return ax.plot(qpos(t), v, color=color, lw=2.2, dashes=(2.0, 1.0), label=label, zorder=2)[0]


def solid(ax, t, v, label):
    return ax.plot(qpos(t), v, color='black', lw=0.9, label=label, zorder=3)[0]


def add_legend(ax, handles, x, y, pitch):
    fs_px = LEG_FS * 100 / 72
    ax.legend(handles=handles, loc='center left',
              bbox_to_anchor=(x / FIG_W, 1 - y / FIG_H), bbox_transform=fig.transFigure,
              frameon=False, fontsize=LEG_FS, handlelength=3.3, handletextpad=0.3,
              borderpad=0, borderaxespad=0,
              labelspacing=(pitch - 0.96 * fs_px) / fs_px, labelcolor=TXT)


# --- panel 1 ---
ax, ax2 = make_panel((64, 589, 19.3, 386.7), (-1, 5), 1)
h1 = dashed(ax, p1_trend_t, p1_trend_v, 'Interest (trend)')
h2 = solid(ax, p1_actual_t, p1_actual_v, 'Interest (actual)')
add_legend(ax2, [h1, h2], 367, 85, 42)

# --- panel 2 ---
ax, ax2 = make_panel((714, 1239, 19, 385), (-1, 5), 1)
h1 = dashed(ax, p2_trend_t, p2_trend_v, 'Inflation (trend)')
h2 = solid(ax, p2_actual_t, p2_actual_v, 'Inflation (actual)')
add_legend(ax2, [h1, h2], 1003, 82, 39.5)

# --- panel 3 ---
ax, ax2 = make_panel((64, 589, 480, 847.7), (-3, 3), 1)
h1 = dashed(ax, p3_trend_t, p3_trend_v, 'Interest (trend)')
h2 = solid(ax, p3_actual_t, p3_actual_v, 'Interest (actual)')
add_legend(ax2, [h1, h2], 323, 785, 43.5)

# --- panel 4 ---
ax, ax2 = make_panel((712, 1237, 481.7, 849), (-8, 8), 2, (-2, 2), 0.5, '{:g}')
h1 = dashed(ax, p4_output_t, p4_output_v, 'Output, cycle (LHS)')
h2 = solid(ax2, p4_interest_t, p4_interest_v, 'Interest, cycle (RHS)')
add_legend(ax2, [h1, h2], 937, 531, 32)

# --- panel 5 ---
ax, ax2 = make_panel((64, 589, 942.7, 1309.3), (-8, 6), 2)
h1 = dashed(ax, p5_gdp_t, p5_gdp_v, 'Output (GDP)', color=NAVY)
h2 = solid(ax, p5_cons_t, p5_cons_v, 'Consumption')
add_legend(ax2, [h1, h2], 389, 1260.6, 40)

# --- panel 6 ---
ax, ax2 = make_panel((714, 1239, 942.7, 1310), (-6, 6), 2, (-0.8, 0.6), 0.2, '{:g}')
h1 = dashed(ax, p6_output_t, p6_output_v, 'Output (LHS)')
h2 = solid(ax2, p6_interest_t, p6_interest_v, 'Interest (RHS)')
add_legend(ax2, [h1, h2], 1031, 1256.5, 31.6)

fig.savefig('out.png', dpi=100, facecolor='white')
